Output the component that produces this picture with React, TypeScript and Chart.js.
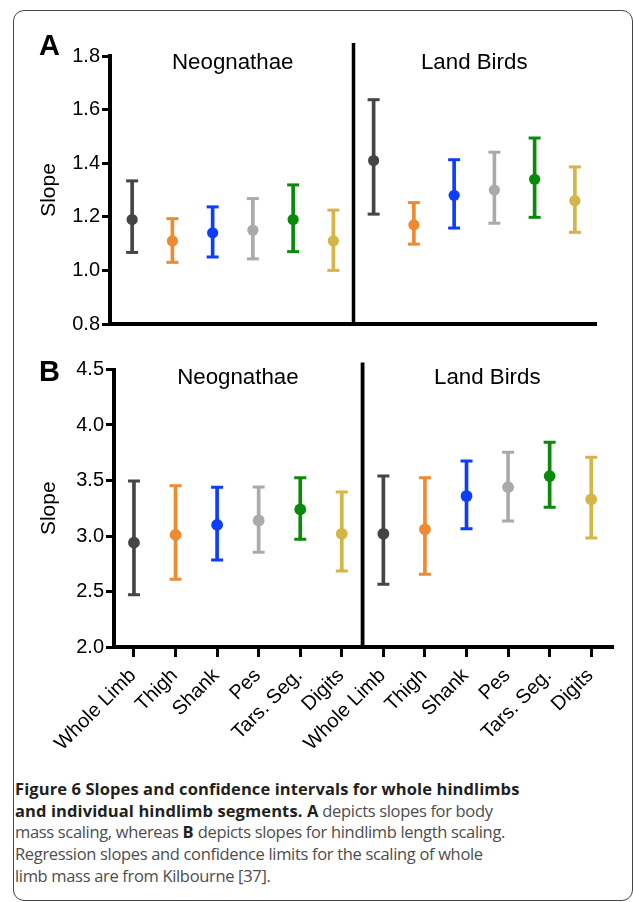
import React, { useEffect, useRef } from 'react';
import { Chart, registerables } from 'chart.js';

Chart.register(...registerables);

// ---------- data ----------
const segments = ['Whole Limb', 'Thigh', 'Shank', 'Pes', 'Tars. Seg.', 'Digits'];
const groups = ['Neognathae', 'Land Birds'];
const categories = [...segments, ...segments];
const segmentColors = ['#454545', '#ee8a30', '#0d3dff', '#aaaaaa', '#0a8a0a', '#d4b545'];
const markColors = [...segmentColors, ...segmentColors];

// Panel A: slopes for body mass scaling
const massSlope = [1.19, 1.11, 1.14, 1.15, 1.19, 1.11, 1.41, 1.17, 1.28, 1.3, 1.34, 1.26];
const massLower = [1.067, 1.03, 1.05, 1.043, 1.07, 1.0, 1.21, 1.098, 1.158, 1.176, 1.198, 1.142];
const massUpper = [1.334, 1.193, 1.237, 1.268, 1.319, 1.225, 1.637, 1.253, 1.413, 1.441, 1.494, 1.386];
const massTicks = [0.8, 1.0, 1.2, 1.4, 1.6, 1.8];

// Panel B: slopes for hindlimb length scaling
const lengthSlope = [2.94, 3.01, 3.1, 3.14, 3.24, 3.02, 3.02, 3.06, 3.36, 3.44, 3.54, 3.33];
const lengthLower = [2.47, 2.61, 2.784, 2.853, 2.97, 2.685, 2.565, 2.655, 3.066, 3.135, 3.258, 2.982];
const lengthUpper = [3.495, 3.453, 3.439, 3.441, 3.525, 3.396, 3.54, 3.525, 3.676, 3.754, 3.844, 3.709];
const lengthTicks = [2.0, 2.5, 3.0, 3.5, 4.0, 4.5];

const groupCenters = [2.5, 8.5];
const groupDivider = 5.5;

const FONT = "'Liberation Sans', Arial, Helvetica, sans-serif";

// ---------- plugin drawing panel letter, group titles and divider ----------
const panelDecor = {
  id: 'panelDecor',
  afterDraw(chart: any, _args: any, opts: any) {
    const { ctx, chartArea, scales } = chart;
    const x = scales.x;
    ctx.save();
    const dx = x.getPixelForValue(groupDivider);
    ctx.strokeStyle = '#000';
    ctx.lineWidth = opts.dividerWidth;
    ctx.beginPath();
    ctx.moveTo(dx, chartArea.top - opts.dividerRise);
    ctx.lineTo(dx, chartArea.bottom);
    ctx.stroke();

    ctx.fillStyle = '#000';
    ctx.textBaseline = 'alphabetic';
    ctx.textAlign = 'center';
    ctx.font = `22.3px ${FONT}`;
    groups.forEach((g, i) => {
      ctx.fillText(g, x.getPixelForValue(groupCenters[i]), chartArea.top + opts.titleOffset);
    });

    ctx.textAlign = 'left';
    ctx.font = `bold 29px ${FONT}`;
    ctx.fillText(opts.letter, opts.letterX, opts.letterBaseline);
    ctx.restore();
  },
};

type PanelSpec = {
  letter: string;
  slope: number[];
  lower: number[];
  upper: number[];
  yTicks: number[];
  xMin: number;
  showXLabels: boolean;
  width: number;
  height: number;
  padding: { top: number; bottom: number; left: number; right: number };
  yWidth: number;
  xHeight: number;
  pointRadius: number;
  decor: any;
};

function makeConfig(p: PanelSpec): any {
  const idx = categories.map((_, i) => i);
  return {
    type: 'scatter',
    data: {
      datasets: [
        {
          type: 'scatter',
          data: idx.map((i) => ({ x: i, y: p.slope[i] })),
          pointStyle: 'circle',
          pointRadius: p.pointRadius,
          pointBackgroundColor: markColors,
          pointBorderWidth: 0,
          pointBorderColor: markColors,
        },
        {
          type: 'scatter',
          data: idx.flatMap((i) => [
            { x: i, y: p.lower[i] },
            { x: i, y: p.upper[i] },
          ]),
          pointStyle: 'line',
          pointRadius: 6,
          pointBorderWidth: 3,
          pointBorderColor: idx.flatMap((i) => [markColors[i], markColors[i]]),
        },
        {
          type: 'bar',
          data: idx.map((i) => ({ x: i, y: [p.lower[i], p.upper[i]] })),
          backgroundColor: markColors,
          borderWidth: 0,
          barThickness: 3,
        },
      ],
    },
    options: {
      responsive: false,
      animation: false,
      events: [],
      layout: { padding: p.padding },
      plugins: {
        legend: { display: false },
        tooltip: { enabled: false },
        panelDecor: p.decor,
      },
      scales: {
        x: {
          type: 'linear',
          offset: false,
          min: p.xMin,
          max: 11.5,
          afterBuildTicks: (s: any) => {
            s.ticks = idx.map((v) => ({ value: v }));
          },
          afterFit: (s: any) => {
            s.height = p.xHeight;
          },
          grid: {
            display: p.showXLabels,
            offset: false,
            drawOnChartArea: false,
            drawTicks: true,
            tickLength: 10,
            lineWidth: 3,
            color: '#000',
          },
          border: { display: true, width: 4, color: '#000' },
          ticks: {
            display: p.showXLabels,
            autoSkip: false,
            minRotation: 45,
            maxRotation: 45,
            padding: 7,
            labelOffset: -1,
            color: '#000',
            font: { family: FONT, size: 20 },
            callback: (v: number) => categories[v] ?? '',
          },
        },
        y: {
          type: 'linear',
          min: p.yTicks[0],
          max: p.yTicks[p.yTicks.length - 1],
          afterBuildTicks: (s: any) => {
            s.ticks = p.yTicks.map((v) => ({ value: v }));
          },
          afterFit: (s: any) => {
            s.width = p.yWidth;
          },
          grid: {
            drawOnChartArea: false,
            drawTicks: true,
            tickLength: 8,
            lineWidth: 3,
            color: '#000',
          },
          border: { display: true, width: 4, color: '#000' },
          ticks: {
            padding: 2,
            color: '#000',
            font: { family: FONT, size: 20 },
            callback: (v: number) => Number(v).toFixed(1),
          },
          title: {
            display: true,
            text: 'Slope',
            color: '#000',
            font: { family: FONT, size: 21 },
            padding: { top: 37, bottom: 0 },
          },
        },
      },
    },
    plugins: [panelDecor],
  };
}

const panelA: PanelSpec = {
  letter: 'A',
  slope: massSlope,
  lower: massLower,
  upper: massUpper,
  yTicks: massTicks,
  xMin: -0.55,
  showXLabels: false,
  width: 633,
  height: 340,
  padding: { top: 56, bottom: 16, left: 0, right: 38 },
  yWidth: 110,
  xHeight: 0,
  pointRadius: 5.6,
  decor: { letter: 'A', letterX: 39, letterBaseline: 55, titleOffset: 12.5, dividerRise: 13, dividerWidth: 3.5 },
};

const panelB: PanelSpec = {
  letter: 'B',
  slope: lengthSlope,
  lower: lengthLower,
  upper: lengthUpper,
  yTicks: lengthTicks,
  xMin: -0.48,
  showXLabels: true,
  width: 633,
  height: 430,
  padding: { top: 29.5, bottom: 0, left: 0, right: 21 },
  yWidth: 114,
  xHeight: 123,
  pointRadius: 5.9,
  decor: { letter: 'B', letterX: 39, letterBaseline: 40.5, titleOffset: 14.5, dividerRise: 7, dividerWidth: 3.8 },
};

function Panel({ spec, top }: { spec: PanelSpec; top: number }) {
  const ref = useRef<HTMLCanvasElement | null>(null);
  useEffect(() => {
    if (!ref.current) return;
    const chart = new Chart(ref.current, makeConfig(spec));
    return () => chart.destroy();
  }, [spec]);
  return (
    <canvas
      ref={ref}
      width={spec.width}
      height={spec.height}
      style={{ position: 'absolute', left: 0, top, width: spec.width, height: spec.height }}
    />
  );
}

const captionBold: React.CSSProperties = { fontWeight: 700, color: '#231f20', letterSpacing: 0.1 };

export default function App() {
  return (
    <div
      style={{
        position: 'fixed',
        left: 0,
        top: 0,
        width: 633,
        height: 902,
        background: '#fff',
        overflow: 'hidden',
      }}
    >
      <div
        style={{
          position: 'absolute',
          left: 13,
          top: 10,
          width: 620,
          height: 891,
          border: '1.5px solid #444',
          borderRadius: 11,
          boxSizing: 'border-box',
        }}
      />
      <Panel spec={panelA} top={0} />
      <Panel spec={panelB} top={340} />
      <div
        style={{
          position: 'absolute',
          left: 15,
          top: 778,
          fontFamily: "'Open Sans', sans-serif",
          fontSize: 16.5,
          lineHeight: '21.7px',
          color: '#4d4d4d',
          letterSpacing: -0.33,
          whiteSpace: 'nowrap',
        }}
      >
        <div style={captionBold}>Figure 6 Slopes and confidence intervals for whole hindlimbs</div>
        <div>
          <span style={captionBold}>and individual hindlimb segments. A</span> depicts slopes for body
        </div>
        <div>
          mass scaling, whereas <span style={captionBold}>B</span> depicts slopes for hindlimb length scaling.
        </div>
        <div>Regression slopes and confidence limits for the scaling of whole</div>
        <div>limb mass are from Kilbourne [37].</div>
      </div>
    </div>
  );
}
